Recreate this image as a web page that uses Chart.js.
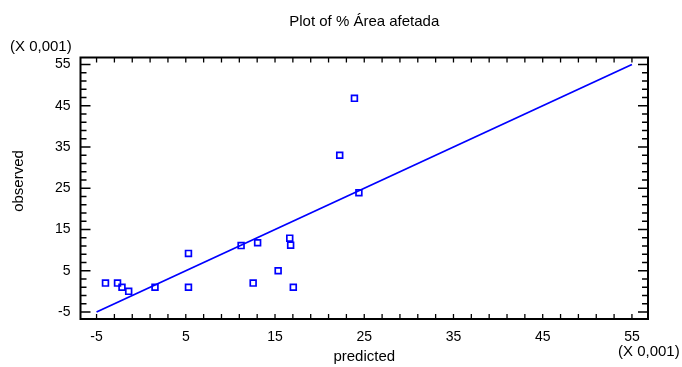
<!DOCTYPE html>
<html>
<head>
<meta charset="utf-8">
<script src="https://cdn.jsdelivr.net/npm/chart.js@4"></script>
<style>
  html, body { margin: 0; padding: 0; background: #fff; }
  #wrap { width: 682px; height: 367px; }
</style>
</head>
<body>
<div id="wrap"><canvas id="plotCanvas" width="682" height="367"></canvas></div>
<script>
// valores (x 0,001)
const predicted = [-4.0, -2.65, -2.15, -1.4, 1.55, 5.3, 5.3, 11.2, 13.05, 12.55, 15.35, 16.65, 16.75, 17.05, 22.25, 23.9, 24.4];
const observed = [2, 2, 1, 0, 1, 9.2, 1, 11.1, 11.8, 2, 5, 12.9, 11.2, 1, 33, 46.8, 23.9];

// linha y = x
const fitX = [-5, 55];
const fitY = [-5, 55];

const majorTicks = [-5, 5, 15, 25, 35, 45, 55];
const minorStep = 2;

const FONT = '"Liberation Sans", Arial, sans-serif';
const BLUE = "#0000ff";

function buildTicks(scale) {
    const out = [];
    for (let v = -5; v <= 55; v += minorStep) out.push({ value: v });
    scale.ticks = out;
}

function isMajor(v) {
    return majorTicks.indexOf(v) !== -1;
}

// moldura e marcas para dentro
const framePlugin = {
    id: "framePlugin",
    afterDatasetsDraw(chart) {
        const { ctx, chartArea: a, scales } = chart;
        const x = scales.x, y = scales.y;
        ctx.save();
        ctx.strokeStyle = "#000";
        ctx.lineWidth = 1.3;
        ctx.beginPath();
        x.ticks.forEach((t) => {
            const px = x.getPixelForValue(t.value);
            ctx.moveTo(px, a.bottom);
            ctx.lineTo(px, a.bottom - 5);
            ctx.moveTo(px, a.top);
            ctx.lineTo(px, a.top + 5);
        });
        y.ticks.forEach((t) => {
            const py = y.getPixelForValue(t.value);
            const len = isMajor(t.value) ? 10 : 6;
            ctx.moveTo(a.left, py);
            ctx.lineTo(a.left + len, py);
            ctx.moveTo(a.right, py);
            ctx.lineTo(a.right - len, py);
        });
        ctx.stroke();
        ctx.lineWidth = 2;
        ctx.strokeRect(a.left, a.top, a.right - a.left, a.bottom - a.top);
        ctx.restore();
    },
    afterDraw(chart) {
        const ctx = chart.ctx;
        const a = chart.chartArea;
        const cx = (a.left + a.right) / 2;
        ctx.save();
        ctx.fillStyle = "#000";
        ctx.font = "15px " + FONT;
        ctx.textBaseline = "middle";

        ctx.textAlign = "center";
        ctx.fillText("Plot of % Área afetada", cx, 22);
        ctx.fillText("predicted", cx, 357);

        ctx.textAlign = "left";
        ctx.fillText("(X 0,001)", 10, 47);
        ctx.fillText("(X 0,001)", 618, 352);

        ctx.translate(19, 181);
        ctx.rotate(-Math.PI / 2);
        ctx.textAlign = "center";
        ctx.fillText("observed", 0, 0);
        ctx.restore();
    }
};

const ctx = document.getElementById("plotCanvas").getContext("2d");

new Chart(ctx, {
    type: "scatter",
    data: {
        datasets: [
            {
                label: "observed",
                data: predicted.map((v, i) => ({ x: v, y: observed[i] })),
                pointStyle: "rect",
                pointRadius: 4.1,
                pointHoverRadius: 4.1,
                borderColor: BLUE,
                backgroundColor: "rgba(0,0,0,0)",
                borderWidth: 1.7,
            },
            {
                label: "fit",
                data: fitX.map((v, i) => ({ x: v, y: fitY[i] })),
                showLine: true,
                pointRadius: 0,
                borderColor: BLUE,
                borderWidth: 1.8,
                fill: false,
            }
        ]
    },
    options: {
        responsive: false,
        animation: false,
        events: [],
        layout: {
            padding: { left: 0, top: 57.5, right: 34, bottom: 0 }
        },
        plugins: {
            legend: { display: false },
            tooltip: { enabled: false },
            title: { display: false }
        },
        scales: {
            x: {
                type: "linear",
                min: -6.8,
                max: 56.8,
                afterBuildTicks: buildTicks,
                afterFit: function (scale) { scale.height = 48; },
                grid: { display: false, drawTicks: false },
                border: { display: false },
                ticks: {
                    autoSkip: false,
                    maxRotation: 0,
                    padding: 10,
                    color: "#000",
                    font: { family: FONT, size: 14 },
                    callback: function (value) {
                        return isMajor(value) ? String(value) : "";
                    }
                }
            },
            y: {
                type: "linear",
                min: -6.7,
                max: 56.7,
                afterBuildTicks: buildTicks,
                afterFit: function (scale) { scale.width = 80.5; },
                grid: { display: false, drawTicks: false },
                border: { display: false },
                ticks: {
                    autoSkip: false,
                    padding: 10,
                    color: "#000",
                    font: { family: FONT, size: 14 },
                    callback: function (value) {
                        return isMajor(value) ? String(value) : "";
                    }
                }
            }
        }
    },
    plugins: [framePlugin]
});
</script>
</body>
</html>
